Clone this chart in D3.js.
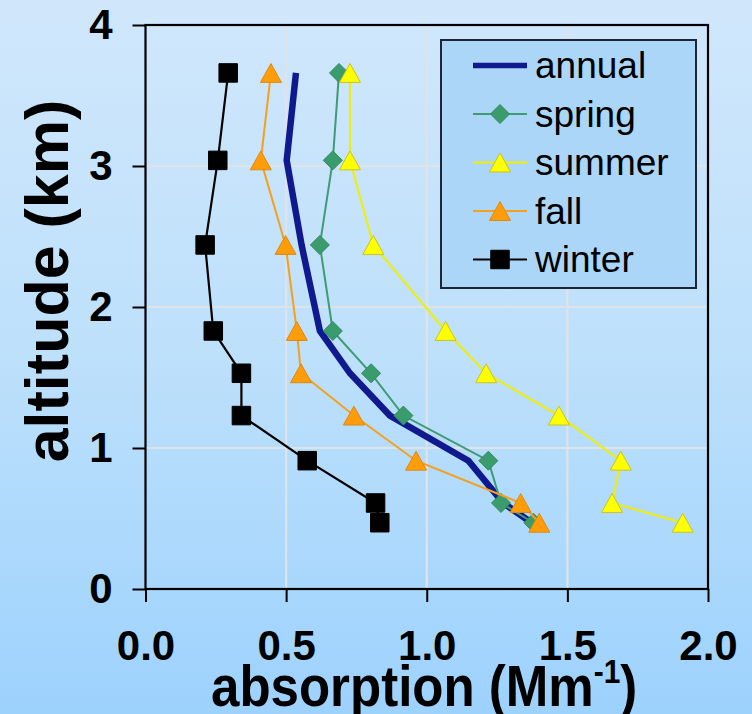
<!DOCTYPE html>
<html>
<head>
<meta charset="utf-8">
<script src="https://cdn.jsdelivr.net/npm/d3@7"></script>
<style>
  html, body { margin: 0; padding: 0; }
  svg { display: block; }
</style>
</head>
<body>
<svg id="chart" width="752" height="714"></svg>
<script>
// Altitude levels (km) shared by every profile
const altitudes = [3.66, 3.04, 2.44, 1.83, 1.53, 1.23, 0.91, 0.61, 0.47];

// Absorption (Mm^-1) at each altitude level
const annual = [0.535, 0.502, 0.555, 0.620, 0.727, 0.869, 1.148, 1.272, 1.373];
const spring = [0.688, 0.666, 0.620, 0.666, 0.802, 0.917, 1.219, 1.264, 1.379];
const summer = [0.727, 0.727, 0.810, 1.067, 1.211, 1.470, 1.690, 1.659, 1.910];
const fall   = [0.446, 0.410, 0.498, 0.538, 0.553, 0.741, 0.962, 1.334, 1.400];
const winter = [0.294, 0.257, 0.212, 0.241, 0.341, 0.341, 0.575, 0.818, 0.833];

const seriesNames = ["annual", "spring", "summer", "fall", "winter"];
const xTicks = [0, 0.5, 1.0, 1.5, 2.0];
const yTicks = [0, 1, 2, 3, 4];
const xGrid = [0.5, 1.0, 1.5];
const yGrid = [1, 2, 3];

const W = 752, H = 714;
const FONT = "'Liberation Sans', Arial, Helvetica, sans-serif";

const svg = d3.select("#chart");
const defs = svg.append("defs");

// Page background gradient: pale blue at the top, stronger blue at the bottom
const bg = defs.append("linearGradient")
  .attr("id", "bgGrad")
  .attr("gradientUnits", "userSpaceOnUse")
  .attr("x1", 0).attr("y1", 0).attr("x2", 0).attr("y2", H);
bg.append("stop").attr("offset", 0).attr("stop-color", "#d0e7fb");
bg.append("stop").attr("offset", 0.5).attr("stop-color", "#bde0fb");
bg.append("stop").attr("offset", 1).attr("stop-color", "#9dd2fd");

svg.append("rect").attr("width", W).attr("height", H).attr("fill", "url(#bgGrad)");

const x = d3.scaleLinear().domain([0, 2]).range([145.5, 708]);
const y = d3.scaleLinear().domain([0, 4]).range([589, 25]);

// Grid lines
const grid = svg.append("g");
grid.selectAll(".vg").data(xGrid).join("line")
  .attr("x1", d => x(d)).attr("x2", d => x(d))
  .attr("y1", y(4)).attr("y2", y(0))
  .attr("stroke", "#dfe3e8").attr("stroke-width", 2.2);
grid.selectAll(".hg").data(yGrid).join("line")
  .attr("x1", x(0)).attr("x2", x(2))
  .attr("y1", d => y(d)).attr("y2", d => y(d))
  .attr("stroke", "#dfe3e8").attr("stroke-width", 2.2);

// Axes
const yAxis = svg.append("g")
  .attr("transform", `translate(${x(0)},0)`)
  .call(d3.axisLeft(y).tickValues(yTicks).tickSize(13).tickPadding(20).tickFormat(d3.format("d")));
const xAxis = svg.append("g")
  .attr("transform", `translate(0,${y(0)})`)
  .call(d3.axisBottom(x).tickValues(xTicks).tickSize(13).tickPadding(28).tickFormat(d3.format(".1f")));

[yAxis, xAxis].forEach(g => {
  g.select(".domain").remove();
  g.selectAll(".tick line").attr("stroke", "#000").attr("stroke-width", 2);
  g.selectAll(".tick text")
    .attr("fill", "#000")
    .style("font-family", FONT)
    .style("font-weight", "bold")
    .style("font-size", "42px");
});

// Plot frame
svg.append("rect")
  .attr("x", x(0)).attr("y", y(4))
  .attr("width", x(2) - x(0)).attr("height", y(0) - y(4))
  .attr("fill", "none").attr("stroke", "#000").attr("stroke-width", 2.2);

// Marker shapes
const triangleType = {
  draw(ctx, size) {
    const w = size, h = size * 0.9;
    ctx.moveTo(0, -h / 2);
    ctx.lineTo(w / 2, h / 2);
    ctx.lineTo(-w / 2, h / 2);
    ctx.closePath();
  }
};
const diamondType = {
  draw(ctx, size) {
    const r = size / 2;
    ctx.moveTo(0, -r);
    ctx.lineTo(r, 0);
    ctx.lineTo(0, r);
    ctx.lineTo(-r, 0);
    ctx.closePath();
  }
};
const squareType = {
  draw(ctx, size) {
    const r = size / 2;
    ctx.rect(-r, -r, size, size);
  }
};

const styles = {
  annual: { values: annual, line: "#101a8e", width: 6.5, marker: null },
  spring: { values: spring, line: "#3e9b74", width: 2, marker: diamondType, size: 19, fill: "#3a9c6c", stroke: "#2f8a60" },
  summer: { values: summer, line: "#f2ee00", width: 2, marker: triangleType, size: 21, fill: "#ffff00", stroke: "#c9c51a" },
  fall:   { values: fall,   line: "#f5a01c", width: 2, marker: triangleType, size: 21, fill: "#ff9c0a", stroke: "#dd8a10" },
  winter: { values: winter, line: "#000000", width: 2.2, marker: squareType, size: 18.5, fill: "#000000", stroke: "#000000" }
};

const lineGen = d3.line().x(d => x(d[0])).y(d => y(d[1]));

const plot = svg.append("g");
seriesNames.forEach(name => {
  const s = styles[name];
  const pts = s.values.map((v, i) => [v, altitudes[i]]);
  const g = plot.append("g").attr("class", "series-" + name);
  g.append("path")
    .attr("d", lineGen(pts))
    .attr("fill", "none")
    .attr("stroke", s.line)
    .attr("stroke-width", s.width)
    .attr("stroke-linejoin", "miter");
  if (s.marker) {
    const sym = d3.symbol().type(s.marker).size(s.size);
    g.selectAll("path.m").data(pts).join("path")
      .attr("class", "m")
      .attr("transform", d => `translate(${x(d[0])},${y(d[1])})`)
      .attr("d", sym)
      .attr("fill", s.fill)
      .attr("stroke", s.stroke)
      .attr("stroke-width", 1);
  }
});

// Legend
const legend = svg.append("g");
legend.append("rect")
  .attr("x", 441).attr("y", 40).attr("width", 255).attr("height", 248)
  .attr("fill", "#acd6f7").attr("stroke", "#1c2733").attr("stroke-width", 2);

seriesNames.forEach((name, i) => {
  const s = styles[name];
  const cy = 65.5 + i * 48.5;
  const row = legend.append("g").attr("transform", `translate(0,${cy})`);
  row.append("line")
    .attr("x1", 473).attr("x2", 527).attr("y1", 0).attr("y2", 0)
    .attr("stroke", s.line).attr("stroke-width", name === "annual" ? 5.5 : 2);
  if (s.marker) {
    row.append("path")
      .attr("transform", "translate(500,0)")
      .attr("d", d3.symbol().type(s.marker).size(s.size)())
      .attr("fill", s.fill).attr("stroke", s.stroke).attr("stroke-width", 1);
  }
  row.append("text")
    .attr("x", 535).attr("y", 0).attr("dy", "0.35em")
    .style("font-family", FONT).style("font-size", "37px")
    .attr("fill", "#000")
    .text(name);
});

// Axis titles
const xt = svg.append("g").attr("transform", "translate(211,706) scale(0.88,1)");
const xText = xt.append("text")
  .attr("x", 0).attr("y", 0)
  .style("font-family", FONT).style("font-weight", "bold").style("font-size", "58px")
  .attr("fill", "#000");
xText.append("tspan").text("absorption (Mm");
xText.append("tspan").attr("dy", -23).style("font-size", "34px").text("-1");
xText.append("tspan").attr("dy", 23).text(")");

svg.append("text")
  .attr("transform", "translate(68,281) rotate(-90)")
  .attr("text-anchor", "middle")
  .style("font-family", FONT).style("font-weight", "bold").style("font-size", "61px")
  .attr("fill", "#000")
  .text("altitude (km)");
</script>
</body>
</html>
